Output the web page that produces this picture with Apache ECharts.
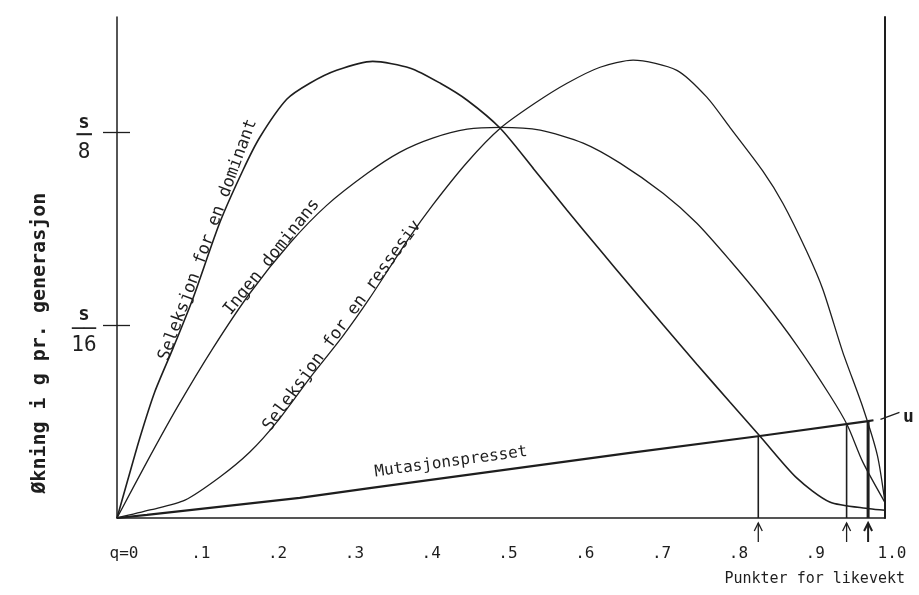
<!DOCTYPE html>
<html><head><meta charset="utf-8">
<script src="https://cdn.jsdelivr.net/npm/echarts@6/dist/echarts.min.js"></script>
<style>html,body{margin:0;padding:0;background:#fff}#c{width:919px;height:595px}</style>
</head><body><div id="c"></div>
<script>
// ---- data (x = q, y = increase in q per generation, in units of s) ----
const xTicks = [0, 0.1, 0.2, 0.3, 0.4, 0.5, 0.6, 0.7, 0.8, 0.9, 1.0];
const xTickLabels = ['q=0', '.1', '.2', '.3', '.4', '.5', '.6', '.7', '.8', '.9', '1.0'];
const yTicks = [0.0625, 0.125];
const yTickDenoms = ['16', '8'];

const dominant = [[0,0],[0.014,0.0123],[0.030,0.0262],[0.049,0.0408],[0.073,0.0551],[0.099,0.0713],[0.134,0.0959],[0.164,0.1128],[0.186,0.1235],[0.221,0.1358],[0.251,0.141],[0.286,0.1452],[0.333,0.1481],[0.382,0.1459],[0.421,0.141],[0.456,0.1355],[0.499,0.1264],[0.542,0.1134],[0.586,0.0998],[0.629,0.0869],[0.668,0.0753],[0.711,0.0627],[0.755,0.0499],[0.798,0.0376],[0.837,0.0266],[0.885,0.013],[0.928,0.0052],[0.98,0.003],[1,0.0025]];
const noDominance = [[0,0],[0.039,0.0182],[0.078,0.0357],[0.125,0.0551],[0.173,0.0729],[0.225,0.0891],[0.273,0.1014],[0.326,0.1118],[0.368,0.1186],[0.411,0.1232],[0.456,0.1261],[0.499,0.1267],[0.551,0.1258],[0.607,0.1216],[0.655,0.1151],[0.711,0.1053],[0.755,0.0956],[0.798,0.0836],[0.841,0.0707],[0.885,0.0561],[0.928,0.0399],[0.951,0.0301],[0.971,0.0182],[1,0.005]];
const recessive = [[0,0],[0.043,0.0026],[0.0885,0.0058],[0.134,0.0133],[0.173,0.0214],[0.208,0.0311],[0.251,0.0454],[0.294,0.059],[0.329,0.0713],[0.381,0.0911],[0.411,0.1015],[0.456,0.1154],[0.499,0.1264],[0.544,0.1345],[0.586,0.141],[0.629,0.1462],[0.672,0.1485],[0.729,0.1452],[0.768,0.1365],[0.798,0.1267],[0.841,0.1125],[0.867,0.1021],[0.898,0.0865],[0.919,0.0742],[0.945,0.0538],[0.971,0.036],[0.99,0.0204],[1,0.005]];
const mutation = [[0,0],[0.039,0.001],[0.238,0.0065],[0.329,0.0097],[0.668,0.0211],[0.837,0.0266],[0.978,0.0314],[0.985,0.0317]];

const equilibriumQ = [0.835, 0.950, 0.978];
const equilibriumV = [0.0266, 0.0301, 0.0314];

const curveLabels = ['Seleksjon for en dominant', 'Ingen dominans', 'Seleksjon for en ressesiv', 'Mutasjonspresset'];
const curveLabelQ = [0.125, 0.207, 0.300, 0.4375];
const yTitle = 'Økning i g pr. generasjon';
const xTitle = 'Punkter for likevekt';
const mutationEndLabel = 'u';

// ---- chart ----
const INK = '#1e1e1e';
const MONO = '"DejaVu Sans Mono", "Liberation Mono", monospace';
const chart = echarts.init(document.getElementById('c'), null, {renderer: 'canvas'});

function lineSeries(name, data, width, smooth) {
  return {name, type: 'line', data, symbol: 'none', smooth: smooth, clip: false,
    lineStyle: {color: INK, width: width}, silent: true, z: 3};
}
const series = [
  lineSeries(curveLabels[0], dominant, 1.6, 0.25),
  lineSeries(curveLabels[1], noDominance, 1.3, 0.25),
  lineSeries(curveLabels[2], recessive, 1.3, 0.25),
  lineSeries(curveLabels[3], mutation, 2.2, false)
];
equilibriumQ.forEach((q, i) => {
  series.push(lineSeries('likevekt ' + (i + 1), [[q, 0], [q, equilibriumV[i]]], i === 2 ? 3 : 1.6, false));
});

chart.setOption({
  backgroundColor: '#ffffff',
  animation: false,
  grid: {left: 117, right: 34, top: 17, bottom: 77, outerBoundsMode: 'none'},
  xAxis: {
    type: 'value', min: 0, max: 1, interval: 0.1,
    axisLine: {show: true, lineStyle: {color: INK, width: 1.5}},
    axisTick: {show: false}, splitLine: {show: false},
    axisLabel: {
      margin: 28, color: INK, fontFamily: MONO, fontSize: 16, padding: [0, 0, 0, 14],
      formatter: v => { const i = xTicks.findIndex(t => Math.abs(t - v) < 1e-6); return i >= 0 ? xTickLabels[i] : ''; }
    }
  },
  yAxis: [
    {
      type: 'value', min: 0, max: 0.1625, position: 'left',
      axisLine: {show: true, onZero: false, lineStyle: {color: INK, width: 1.5}},
      axisTick: {show: true, length: 14, customValues: yTicks, lineStyle: {color: INK, width: 1.3}},
      splitLine: {show: false},
      axisLabel: {
        customValues: yTicks, margin: 33, align: 'center', color: INK, padding: [12, 0, 0, 0],
        formatter: v => {
          const i = yTicks.findIndex(t => Math.abs(t - v) < 1e-6);
          const d = yTickDenoms[i];
          return '{n|s}\n{' + (d.length > 1 ? 'bw|──' : 'bn|─') + '}\n{d|' + d + '}';
        },
        rich: {
          n: {fontFamily: MONO, fontSize: 19, fontWeight: 'bold', color: INK, lineHeight: 20, align: 'center'},
          bn: {fontFamily: MONO, fontSize: 25, fontWeight: 'bold', color: INK, lineHeight: 8, align: 'center'},
          bw: {fontFamily: MONO, fontSize: 20, fontWeight: 'bold', color: INK, lineHeight: 8, align: 'center'},
          d: {fontFamily: MONO, fontSize: 21, color: INK, lineHeight: 24, align: 'center'}
        }
      }
    },
    {
      type: 'value', min: 0, max: 0.1625, position: 'left',
      axisLine: {show: false}, splitLine: {show: false}, axisLabel: {show: false},
      axisTick: {show: true, inside: true, length: 13, customValues: yTicks, lineStyle: {color: INK, width: 1.3}}
    },
    {
      type: 'value', min: 0, max: 0.1625, position: 'right',
      axisLine: {show: true, onZero: false, lineStyle: {color: INK, width: 2}},
      axisTick: {show: false}, axisLabel: {show: false}, splitLine: {show: false}
    }
  ],
  series
});

// ---- annotations placed through the chart's own scales ----
function interp(arr, q) {
  for (let i = 1; i < arr.length; i++) {
    if (q <= arr[i][0]) {
      const a = arr[i - 1], b = arr[i];
      return a[1] + (b[1] - a[1]) * (q - a[0]) / (b[0] - a[0]);
    }
  }
  return arr[arr.length - 1][1];
}
const px = p => chart.convertToPixel({gridIndex: 0}, p);
const curves = [dominant, noDominance, recessive, mutation];
const labelOffsets = [3, 3, 2, -7];
const graphics = [];
curves.forEach((arr, i) => {
  const q = curveLabelQ[i];
  const p = px([q, interp(arr, q)]);
  const p1 = px([q - 0.015, interp(arr, q - 0.015)]);
  const p2 = px([q + 0.015, interp(arr, q + 0.015)]);
  const ang = Math.atan2(-(p2[1] - p1[1]), p2[0] - p1[0]);
  const off = labelOffsets[i];
  graphics.push({
    type: 'text', x: p[0] + off * Math.sin(ang), y: p[1] + off * Math.cos(ang), rotation: ang, z: 10,
    style: {text: curveLabels[i], fill: INK, fontFamily: MONO, fontSize: i === 3 ? 16 : 17,
      align: 'center', verticalAlign: 'bottom', textAlign: 'center', textVerticalAlign: 'bottom'}
  });
});
// equilibrium arrows below the axis
equilibriumQ.forEach((q, i) => {
  const b = px([q, 0]);
  graphics.push({type: 'polyline', shape: {points: [[b[0], b[1] + 24], [b[0], b[1] + 5]]}, style: {stroke: INK, lineWidth: i === 2 ? 2 : 1.3, fill: null}});
  graphics.push({type: 'polyline', shape: {points: [[b[0] - 4, b[1] + 13], [b[0], b[1] + 5], [b[0] + 4, b[1] + 13]]}, style: {stroke: INK, lineWidth: i === 2 ? 2 : 1.3, fill: null}});
});
// 'u' at the end of the mutation line
const mEnd = px(mutation[mutation.length - 1]);
graphics.push({type: 'line', shape: {x1: mEnd[0] + 7, y1: mEnd[1] - 1, x2: mEnd[0] + 26, y2: mEnd[1] - 8}, style: {stroke: INK, lineWidth: 1.3}});
graphics.push({type: 'text', x: mEnd[0] + 35, y: mEnd[1] - 3, z: 10,
  style: {text: mutationEndLabel, fill: INK, fontFamily: MONO, fontSize: 18, fontWeight: 'bold',
    align: 'center', verticalAlign: 'middle', textAlign: 'center', textVerticalAlign: 'middle'}});
// axis titles
const gridMid = px([0, 0.0567]);
graphics.push({type: 'text', x: 40, y: gridMid[1], rotation: Math.PI / 2, z: 10,
  style: {text: yTitle, fill: INK, fontFamily: MONO, fontSize: 20, fontWeight: 'bold',
    align: 'center', verticalAlign: 'middle', textAlign: 'center', textVerticalAlign: 'middle'}});
const xEnd = px([1, 0]);
graphics.push({type: 'text', x: xEnd[0] + 20, y: xEnd[1] + 61, z: 10,
  style: {text: xTitle, fill: INK, fontFamily: MONO, fontSize: 15,
    align: 'right', verticalAlign: 'middle', textAlign: 'right', textVerticalAlign: 'middle'}});
chart.setOption({graphic: {elements: graphics}});
</script>
</body></html>
